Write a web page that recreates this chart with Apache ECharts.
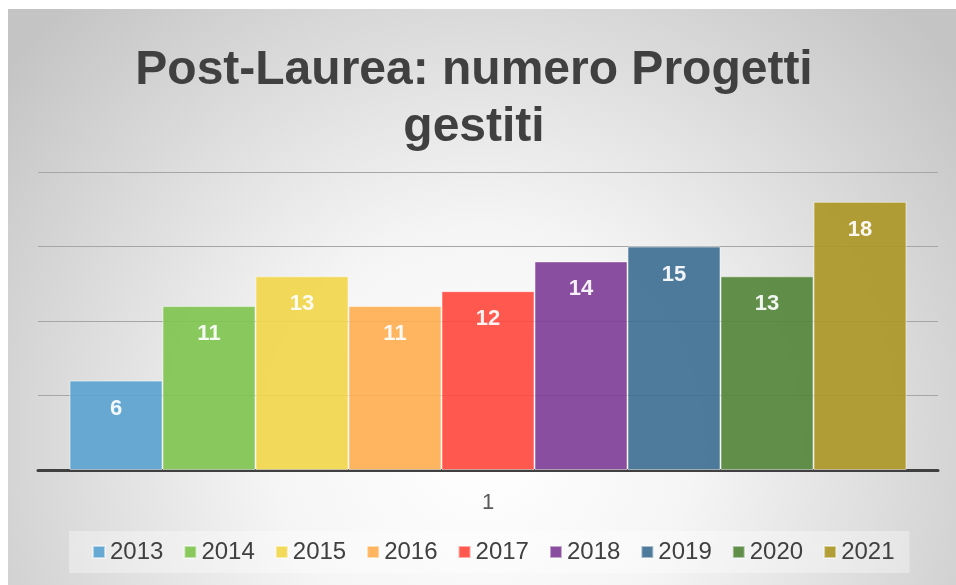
<!DOCTYPE html>
<html>
<head>
<meta charset="utf-8">
<script src="https://cdn.jsdelivr.net/npm/echarts@6/dist/echarts.min.js"></script>
<style>
  html, body { margin: 0; padding: 0; background: #fff; }
  #chart { position: absolute; left: 8px; top: 9px; width: 948px; height: 576px; }
</style>
</head>
<body>
<div id="chart"></div>
<script>
// dati
const categories = ["1"];
const years = ["2013", "2014", "2015", "2016", "2017", "2018", "2019", "2020", "2021"];
const values = [6, 11, 13, 11, 12, 14, 15, 13, 18];
const colors = ["#5ba3cf", "#7fc450", "#f2d64b", "#ffaf52", "#ff4a3f", "#7f3f98", "#3f7094", "#558639", "#ad9727"];

const chart = echarts.init(document.getElementById("chart"));

const series = years.map((y, i) => ({
  name: y,
  type: "bar",
  data: [values[i]],
  barGap: "0%",
  barCategoryGap: "7%",
  itemStyle: {
    color: colors[i],
    opacity: 0.92,
    borderColor: "rgba(255,255,255,0.55)",
    borderWidth: 1,
  },
  label: {
    show: true,
    position: "insideTop",
    distance: 17,
    color: "#fff",
    fontSize: 22,
    fontWeight: "bold",
    fontFamily: "Liberation Sans, Arial",
  },
}));

chart.setOption({
  backgroundColor: new echarts.graphic.RadialGradient(0.5, 0.75, 1.05, [
    { offset: 0, color: "#ffffff" },
    { offset: 0.35, color: "#f5f5f5" },
    { offset: 1, color: "#c4c4c4" },
  ]),
  textStyle: { fontFamily: "Liberation Sans, Arial" },
  title: {
    text: "Post-Laurea: numero Progetti\ngestiti",
    left: 461,
    top: 28,
    textAlign: "center",
    textStyle: {
      fontSize: 48,
      fontWeight: "bold",
      color: "#404040",
      lineHeight: 57,
    },
  },
  legend: {
    bottom: 12,
    left: 61,
    itemWidth: 12,
    itemHeight: 12,
    itemGap: 20,
    icon: "rect",
    padding: [9, 15, 9, 23],
    backgroundColor: "rgba(255,255,255,0.35)",
    textStyle: { fontSize: 24, color: "#404040" },
    data: years,
  },
  grid: { left: 30, right: 18, top: 163, bottom: 115 },
  xAxis: {
    type: "category",
    data: categories,
    axisLine: { lineStyle: { color: "#404040", width: 3 } },
    axisTick: { show: false },
    axisLabel: { fontSize: 22, color: "#595959", margin: 22 },
  },
  yAxis: {
    type: "value",
    min: 0,
    max: 20,
    interval: 5,
    axisLabel: { show: false },
    axisLine: { show: false },
    axisTick: { show: false },
    splitLine: { lineStyle: { color: "#a6a6a6", width: 1 } },
  },
  series: series,
});
</script>
</body>
</html>
